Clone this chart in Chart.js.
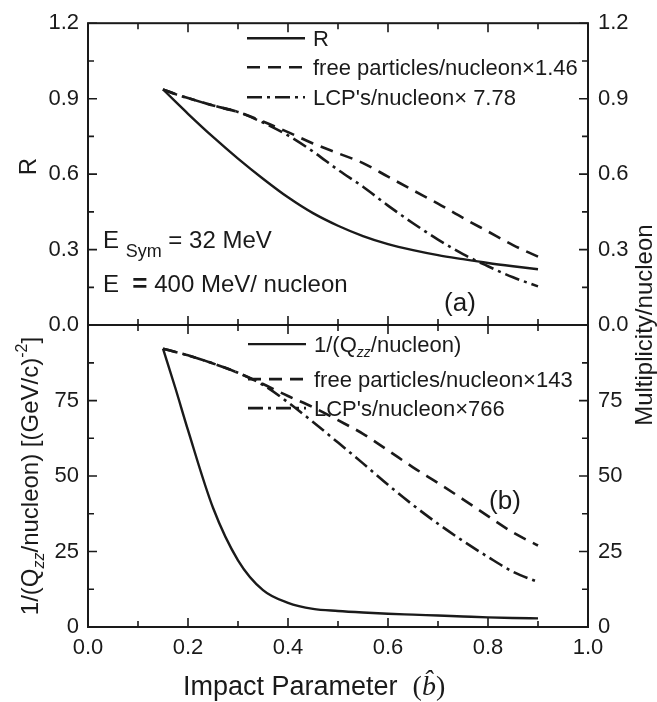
<!DOCTYPE html>
<html>
<head>
<meta charset="utf-8">
<script src="https://cdn.jsdelivr.net/npm/chart.js@4.4.1/dist/chart.umd.min.js"></script>
<style>
  html, body { margin: 0; padding: 0; background: #fff; }
  #wrap { width: 657px; height: 702px; }
</style>
</head>
<body>
<div id="wrap"><canvas id="chart" width="657" height="702"></canvas></div>
<script>
// Impact parameter grid (b-hat)
const impactParam = [0.15, 0.175, 0.2, 0.25, 0.3, 0.35, 0.4, 0.45, 0.5, 0.55, 0.6, 0.65, 0.7, 0.75, 0.8, 0.85, 0.9];

// Panel (a)
const ratioR  = [0.937, 0.888, 0.840, 0.748, 0.662, 0.582, 0.508, 0.445, 0.395, 0.354, 0.322, 0.298, 0.278, 0.262, 0.247, 0.234, 0.222];
const freeTop = [0.937, 0.918, 0.903, 0.873, 0.847, 0.809, 0.767, 0.722, 0.683, 0.644, 0.590, 0.536, 0.483, 0.426, 0.372, 0.318, 0.272];
const lcpTop  = [0.937, 0.918, 0.902, 0.873, 0.847, 0.805, 0.754, 0.690, 0.617, 0.550, 0.475, 0.405, 0.340, 0.282, 0.234, 0.190, 0.154];

// Panel (b)
const invQzz  = [92.2, 79.0, 65.2, 39.5, 22.1, 12.2, 8.0, 6.0, 5.3, 4.8, 4.4, 4.1, 3.8, 3.5, 3.2, 3.0, 2.85];
const freeBot = [92.2, 91.1, 90.0, 87.3, 84.2, 80.5, 76.5, 72.8, 68.5, 64.0, 58.5, 52.9, 47.7, 42.3, 36.7, 31.3, 27.0];
const lcpBot  = [92.2, 91.1, 90.0, 87.3, 84.2, 80.2, 74.4, 67.9, 61.1, 54.2, 47.1, 40.4, 34.2, 28.5, 23.2, 18.3, 14.9];

// Ticks
const xTicks   = [0, 0.2, 0.4, 0.6, 0.8, 1.0];
const xMinor   = [0.1, 0.3, 0.5, 0.7, 0.9];
const topTicks = [0, 0.3, 0.6, 0.9, 1.2];
const topMinor = [0.15, 0.45, 0.75, 1.05];
const botTicks = [0, 25, 50, 75, 100];
const botMinor = [12.5, 37.5, 62.5, 87.5];

const FONT = '"Liberation Sans", Arial, Helvetica, sans-serif';
const SERIF = '"Liberation Serif", "Times New Roman", serif';
const INK = '#1a1a1a';
const font = (size, style) => (style ? style + ' ' : '') + size + 'px ' + FONT;

const DASH = [13, 8];
const DASH_DOT = [15, 5, 3, 5];

function toPoints(ys) {
    return impactParam.map((b, i) => ({ x: b, y: ys[i] }));
}

function lineSet(label, ys, axis, dash, width) {
    return {
        label: label,
        data: toPoints(ys),
        yAxisID: axis,
        borderColor: INK,
        borderWidth: width,
        borderDash: dash,
        pointRadius: 0,
        fill: false,
        cubicInterpolationMode: 'monotone'
    };
}

function richWidth(ctx, parts) {
    let w = 0;
    parts.forEach(p => { ctx.font = p.font; w += ctx.measureText(p.t).width; });
    return w;
}

function drawRich(ctx, x, y, parts) {
    parts.forEach(p => {
        ctx.font = p.font;
        ctx.fillText(p.t, x, y + (p.dy || 0));
        x += ctx.measureText(p.t).width;
    });
    return x;
}

function legendRow(ctx, x0, y, ds, parts) {
    ctx.save();
    ctx.strokeStyle = ds.borderColor;
    ctx.lineWidth = ds.borderWidth;
    ctx.setLineDash(ds.borderDash || []);
    ctx.beginPath();
    ctx.moveTo(x0, y);
    ctx.lineTo(x0 + 58, y);
    ctx.stroke();
    ctx.restore();
    drawRich(ctx, x0 + 66, y + 8, parts);
}

// frame, inward ticks, titles, legends and labels
const decorations = {
    id: 'decorations',
    afterDraw(chart) {
        const ctx = chart.ctx;
        const { left, right, top, bottom } = chart.chartArea;
        const sx = chart.scales.x, sTop = chart.scales.yTop, sBot = chart.scales.yBot;
        const mid = sTop.bottom;
        const ds = chart.data.datasets;

        ctx.save();
        ctx.strokeStyle = INK;
        ctx.fillStyle = INK;
        ctx.lineWidth = 2;
        ctx.strokeRect(left, top, right - left, bottom - top);
        ctx.beginPath();
        ctx.moveTo(left, mid);
        ctx.lineTo(right, mid);
        ctx.stroke();

        ctx.lineWidth = 1.6;
        const vTick = (vals, len) => vals.forEach(v => {
            const px = sx.getPixelForValue(v);
            ctx.beginPath();
            ctx.moveTo(px, top); ctx.lineTo(px, top + len);
            ctx.moveTo(px, mid - len); ctx.lineTo(px, mid + len);
            ctx.moveTo(px, bottom); ctx.lineTo(px, bottom - len);
            ctx.stroke();
        });
        vTick(xTicks, 9);
        vTick(xMinor, 6);
        const hTick = (scale, vals, len) => vals.forEach(v => {
            const py = scale.getPixelForValue(v);
            ctx.beginPath();
            ctx.moveTo(left, py); ctx.lineTo(left + len, py);
            ctx.moveTo(right, py); ctx.lineTo(right - len, py);
            ctx.stroke();
        });
        hTick(sTop, topTicks, 9);
        hTick(sTop, topMinor, 6);
        hTick(sBot, botTicks, 9);
        hTick(sBot, botMinor, 6);

        // axis titles
        ctx.textBaseline = 'alphabetic';
        ctx.save();
        ctx.translate(36, sTop.getPixelForValue(0.63));
        ctx.rotate(-Math.PI / 2);
        ctx.font = font(24);
        ctx.textAlign = 'center';
        ctx.fillText('R', 0, 0);
        ctx.restore();

        const qTitle = [
            { t: '1/(Q', font: font(24) },
            { t: 'zz', font: font(16, 'italic'), dy: 6 },
            { t: '/nucleon) [(GeV/c)', font: font(24) },
            { t: '-2', font: font(16), dy: -11 },
            { t: ']', font: font(24) }
        ];
        ctx.save();
        ctx.translate(38, (mid + bottom) / 2);
        ctx.rotate(-Math.PI / 2);
        ctx.textAlign = 'left';
        drawRich(ctx, -richWidth(ctx, qTitle) / 2, 0, qTitle);
        ctx.restore();

        ctx.save();
        ctx.translate(652, (top + bottom) / 2);
        ctx.rotate(-Math.PI / 2);
        ctx.font = font(24);
        ctx.textAlign = 'center';
        ctx.fillText('Multiplicity/nucleon', 0, 0);
        ctx.restore();

        const xTitle = [
            { t: 'Impact Parameter  ', font: font(27) },
            { t: '(', font: '28px ' + SERIF },
            { t: 'b\u0302', font: 'italic 28px ' + SERIF },
            { t: ')', font: '28px ' + SERIF }
        ];
        ctx.textAlign = 'left';
        drawRich(ctx, sx.getPixelForValue(0.19), 695, xTitle);

        // legends
        const lx = left + 159;
        legendRow(ctx, lx, top + 15, ds[0], [{ t: 'R', font: font(22) }]);
        legendRow(ctx, lx, top + 44, ds[1], [{ t: 'free particles/nucleon\u00d71.46', font: font(22) }]);
        legendRow(ctx, lx, top + 74, ds[2], [{ t: 'LCP\'s/nucleon\u00d7 7.78', font: font(22) }]);
        const bx = left + 160;
        legendRow(ctx, bx, mid + 19, ds[3], [
            { t: '1/(Q', font: font(22) },
            { t: 'zz', font: font(14, 'italic'), dy: 5 },
            { t: '/nucleon)', font: font(22) }
        ]);
        legendRow(ctx, bx, mid + 54, ds[4], [{ t: 'free particles/nucleon\u00d7143', font: font(22) }]);
        legendRow(ctx, bx, mid + 83, ds[5], [{ t: 'LCP\'s/nucleon\u00d7766', font: font(22) }]);

        // annotations
        const ax = sx.getPixelForValue(0.03);
        drawRich(ctx, ax, sTop.getPixelForValue(0.305), [
            { t: 'E ', font: font(24) },
            { t: 'Sym', font: font(18), dy: 9 },
            { t: ' = 32 MeV', font: font(24) }
        ]);
        drawRich(ctx, ax, sTop.getPixelForValue(0.13), [
            { t: 'E  ', font: font(24) },
            { t: '=', font: font(26, 'bold') },
            { t: ' 400 MeV/ nucleon', font: font(24) }
        ]);
        ctx.textAlign = 'center';
        ctx.font = font(26);
        ctx.fillText('(a)', sx.getPixelForValue(0.744), sTop.getPixelForValue(0.058));
        ctx.fillText('(b)', sx.getPixelForValue(0.834), sBot.getPixelForValue(39));
        ctx.restore();
    }
};

const tickFont = { family: FONT, size: 22 };

function yScale(position, stack, min, max, ticks, fmt) {
    return {
        type: 'linear',
        position: position,
        stack: stack,
        stackWeight: 1,
        min: min,
        max: max,
        grid: { display: false, drawTicks: false },
        border: { display: false },
        afterBuildTicks: s => { s.ticks = ticks.map(v => ({ value: v })); },
        afterFit: s => { s.width = position === 'left' ? 88 : 69; },
        ticks: {
            color: INK,
            font: tickFont,
            padding: position === 'left' ? 9 : 10,
            autoSkip: false,
            callback: fmt
        }
    };
}

const fmtTop = v => v.toFixed(1);
const fmtBot = v => (v >= 100 ? '' : String(v));

new Chart(document.getElementById('chart'), {
    type: 'line',
    data: {
        datasets: [
            lineSet('R', ratioR, 'yTop', [], 2.4),
            lineSet('free particles/nucleon\u00d71.46', freeTop, 'yTop', DASH, 2.6),
            lineSet('LCP\'s/nucleon\u00d7 7.78', lcpTop, 'yTop', DASH_DOT, 2.6),
            lineSet('1/(Qzz/nucleon)', invQzz, 'yBot', [], 2.4),
            lineSet('free particles/nucleon\u00d7143', freeBot, 'yBot', DASH, 2.6),
            lineSet('LCP\'s/nucleon\u00d7766', lcpBot, 'yBot', DASH_DOT, 2.6)
        ]
    },
    options: {
        responsive: false,
        animation: false,
        layout: { padding: { top: 19, left: 0, right: 0, bottom: 0 } },
        plugins: {
            legend: { display: false },
            tooltip: { enabled: false }
        },
        scales: {
            x: {
                type: 'linear',
                position: 'bottom',
                min: 0,
                max: 1,
                grid: { display: false, drawTicks: false },
                border: { display: false },
                afterBuildTicks: s => { s.ticks = xTicks.map(v => ({ value: v })); },
                afterFit: s => { s.height = 75; },
                ticks: {
                    color: INK,
                    font: tickFont,
                    padding: 8,
                    autoSkip: false,
                    maxRotation: 0,
                    callback: v => v.toFixed(1)
                }
            },
            yBot: yScale('left', 'left', 0, 100, botTicks, fmtBot),
            yTop: yScale('left', 'left', 0, 1.2, topTicks, fmtTop),
            yTopR: yScale('right', 'right', 0, 1.2, topTicks, fmtTop),
            yBotR: yScale('right', 'right', 0, 100, botTicks, fmtBot)
        }
    },
    plugins: [decorations]
});
</script>
</body>
</html>
